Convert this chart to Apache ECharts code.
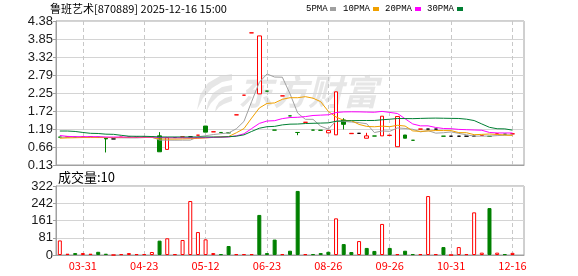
<!DOCTYPE html>
<html><head><meta charset="utf-8">
<script src="https://cdn.jsdelivr.net/npm/echarts@6/dist/echarts.min.js"></script>
<style>html,body{margin:0;padding:0;background:#fff}#c{width:578px;height:276px}</style>
</head><body><div id="c"></div>
<script>
const titleText = '鲁班艺术[870889] 2025-12-16 15:00';
const tickLabels = ['03-31','04-23','05-12','06-23','08-26','09-26','10-31','12-16'];
const tickFirst = 3, tickEvery = 8;
const priceMin = 0.13, priceMax = 4.38;
const volMax = 322;

const open  = [0.955,0.96,0.95,0.96,0.97,0.95,0.92,0.90,0.95,0.95, 0.95,0.95,0.96,0.99,0.59,0.94,0.96,0.96,1.01,1.28, 1.11,1.09,1.08,1.61,2.19,4.03,2.23,2.31,1.16,2.17, 1.58,1.09,1.39,1.16,1.155,1.08,1.02,1.46,1.055,1.065, 0.92,0.985,0.99,1.00,0.67,1.015,0.86,1.19,1.19,1.19, 0.98,0.98,0.98,0.98,0.98,1.00,0.975,1.05,1.04,1.05];
const close = [0.95,0.96,0.95,0.96,0.97,0.95,0.90,0.90,0.95,0.95, 0.95,0.95,0.96,0.52,0.94,0.94,0.96,0.96,1.01,1.10, 1.11,1.09,1.08,1.61,2.19,4.03,3.94,2.31,1.16,2.17, 1.58,1.09,1.39,1.16,1.155,1.15,2.29,1.33,1.065,1.065, 0.99,0.985,1.57,1.01,1.56,0.92,0.86,1.19,1.19,1.19, 0.98,0.98,0.98,0.98,0.98,1.00,0.975,1.05,1.04,1.05];
const low   = [0.95,0.96,0.95,0.96,0.97,0.95,0.50,0.90,0.95,0.95, 0.95,0.95,0.96,0.52,0.59,0.94,0.96,0.96,1.01,1.10, 1.11,1.09,1.08,1.61,2.19,4.03,2.23,2.31,1.16,2.17, 1.58,1.01,1.39,1.16,1.155,1.08,1.02,1.18,1.055,1.065, 0.92,0.985,0.99,1.00,0.67,0.92,0.86,1.19,1.19,1.19, 0.98,0.98,0.98,0.98,0.98,1.00,0.975,1.05,1.04,1.05];
const high  = [0.955,0.96,0.95,0.96,0.97,0.95,0.92,0.90,0.95,0.95, 0.95,0.95,0.96,1.10,0.94,0.94,0.96,0.96,1.01,1.28, 1.11,1.09,1.08,1.61,2.19,4.03,3.94,2.31,1.16,2.17, 1.58,1.09,1.39,1.16,1.155,1.15,2.29,1.51,1.065,1.065, 1.08,0.985,1.57,1.01,1.56,1.015,0.86,1.19,1.19,1.19, 0.98,0.98,0.98,0.98,0.98,1.00,0.975,1.05,1.04,1.05];
const volume = [68,6,9,9,6,15,6,0,4,9, 4,4,14,67,78,4,70,252,107,73, 9,4,42,4,4,4,187,9,72,4, 20,299,4,4,9,15,171,51,14,65, 33,19,145,33,4,20,4,4,275,4, 37,0,37,4,199,11,219,11,4,10];
const ma5  = [0.95,0.95,0.95,0.955,0.958,0.958,0.946,0.936,0.934,0.93, 0.93,0.94,0.952,0.866,0.864,0.862,0.864,0.864,0.962,0.994, 1.028,1.054,1.078,1.198,1.416,2.0,2.57,2.816,2.726,2.722, 2.232,1.662,1.478,1.478,1.275,1.189,1.429,1.417,1.398,1.38, 1.348,1.087,1.135,1.124,1.223,1.209,1.184,1.108,1.144,1.07, 1.082,1.106,1.064,1.022,0.98,0.984,0.983,0.997,1.009,1.023];
const ma10 = [0.92,0.93,0.935,0.94,0.94,0.94,0.94,0.94,0.94,0.944, 0.944,0.943,0.944,0.90,0.897,0.896,0.902,0.908,0.914,0.929, 0.945,0.959,0.971,1.08,1.205,1.514,1.812,1.947,1.962,2.069, 2.116,2.116,2.147,2.102,1.999,1.711,1.546,1.448,1.438,1.328, 1.269,1.258,1.276,1.261,1.302,1.279,1.136,1.122,1.134,1.147, 1.146,1.145,1.086,1.083,1.025,1.033,1.045,1.031,1.016,1.002];
const ma20 = [1.0,0.975,0.965,0.965,0.965,0.965,0.955,0.955,0.955,0.955, 0.955,0.955,0.955,0.94,0.935,0.935,0.935,0.935,0.935,0.937, 0.945,0.951,0.958,0.99,1.051,1.205,1.357,1.428,1.438,1.499, 1.531,1.538,1.559,1.591,1.602,1.612,1.679,1.697,1.70,1.698, 1.692,1.687,1.712,1.682,1.65,1.495,1.341,1.285,1.286,1.237, 1.207,1.202,1.181,1.172,1.163,1.156,1.09,1.076,1.075,1.074];
const ma30 = [1.133,1.133,1.12,1.09,1.065,1.06,1.04,1.035,1.006,0.98, 0.977,0.977,0.97,0.957,0.957,0.957,0.957,0.957,0.957,0.957, 0.957,0.957,0.965,0.98,1.02,1.12,1.215,1.26,1.27,1.314, 1.335,1.339,1.354,1.361,1.367,1.374,1.42,1.434,1.438,1.442, 1.443,1.444,1.465,1.481,1.502,1.501,1.498,1.505,1.511,1.514, 1.51,1.506,1.503,1.482,1.442,1.341,1.242,1.20,1.196,1.159];
const maNames = ['5PMA','10PMA','20PMA','30PMA'];

const RED = '#ff0000', GREEN = '#008000', FLAT = '#000000';
const maColors = ['#a0a0a0','#f0a000','#ff00ff','#007f33'];
const n = close.length;
// one spare slot at the right end like the reference
const cats = Array.from({length: n + 1}, (_, i) => String(i));
const isTick = i => i >= tickFirst && (i - tickFirst) % tickEvery === 0 && i < n;
const tickIdx = cats.map((c, i) => i).filter(isTick);

function kind(i) {
  if (close[i] > open[i]) return 'up';
  if (close[i] < open[i]) return 'down';
  if (i === 0) return 'flat';
  return close[i] > close[i-1] ? 'up' : close[i] < close[i-1] ? 'down' : 'flat';
}
const candleData = close.map((c, i) => {
  const k = kind(i);
  const col = k === 'up' ? RED : k === 'down' ? GREEN : FLAT;
  const fill = k === 'up' ? '#ffffff' : col;
  return { value: [open[i], c, low[i], high[i]],
    itemStyle: { color: fill, color0: fill, borderColor: col, borderColor0: col, borderColorDoji: col, borderWidth: 1 } };
});
const volData = volume.map((v, i) => {
  const up = i === 0 || close[i] >= close[i-1];
  return { value: v, itemStyle: up
    ? { color: '#ffffff', borderColor: RED, borderWidth: 1 }
    : { color: GREEN, borderColor: GREEN, borderWidth: 1 } };
});

const chart = echarts.init(document.getElementById('c'), null, {renderer: 'canvas'});
const gridL = 56, gridR = 54;
const axisGray = '#a0a0a0', splitGray = '#d4d4d4', dashGray = '#c8c8c8';
const vLines = { silent: true, symbol: 'none', z: 1, label: {show: false},
  lineStyle: {color: dashGray, type: [4, 3], width: 1},
  emphasis: {disabled: true},
  data: tickIdx.map(i => ({xAxis: String(i)})) };

const legendItems = [];
const legendX = [306, 343, 385, 427];
const markX = [330, 373, 415, 457];
maNames.forEach((nm, k) => {
  legendItems.push({type: 'text', x: legendX[k], y: 9, z: 10,
    style: {text: nm, fill: '#000', fontSize: 9, fontFamily: "'Liberation Mono',monospace", verticalAlign: 'middle'}});
  legendItems.push({type: 'rect', z: 10, shape: {x: markX[k], y: 7, width: 6, height: 4}, style: {fill: maColors[k]}});
});

const wm = '#e6e6e6';
const option = {
  animation: false,
  backgroundColor: '#fff',
  grid: [
    {left: gridL, right: gridR, top: 21, height: 144, show: true, borderColor: axisGray, borderWidth: 1},
    {left: gridL, right: gridR, top: 186, height: 69, show: true, borderColor: axisGray, borderWidth: 1}
  ],
  xAxis: [
    {type: 'category', gridIndex: 0, data: cats, boundaryGap: true,
     axisLine: {lineStyle: {color: axisGray}}, axisTick: {show: false}, axisLabel: {show: false}, splitLine: {show: false}},
    {type: 'category', gridIndex: 1, data: cats, boundaryGap: true,
     axisLine: {lineStyle: {color: axisGray}}, axisTick: {show: false},
     axisLabel: {interval: (i) => isTick(i), formatter: (v, i) => isTick(i) ? tickLabels[(i - tickFirst) / tickEvery] : '',
       color: RED, fontSize: 11, fontFamily: "'Noto Sans CJK SC', sans-serif", margin: 5},
     splitLine: {show: false}}
  ],
  yAxis: [
    {type: 'value', gridIndex: 0, min: priceMin, max: priceMax, interval: (priceMax - priceMin) / 8,
     axisLine: {show: true, lineStyle: {color: axisGray}}, axisTick: {show: true, length: 3, lineStyle: {color: axisGray}},
     axisLabel: {formatter: v => v.toFixed(2), color: '#1a1a1a', fontSize: 13, fontFamily: "'Liberation Sans', Arial, sans-serif", margin: 3, showMinLabel: true, showMaxLabel: true},
     splitLine: {show: true, lineStyle: {color: splitGray, width: 1}}},
    {type: 'value', gridIndex: 1, min: 0, max: volMax, interval: volMax / 4,
     axisLine: {show: true, lineStyle: {color: axisGray}}, axisTick: {show: true, length: 3, lineStyle: {color: axisGray}},
     axisLabel: {formatter: v => String(Math.round(v)), color: '#1a1a1a', fontSize: 13, fontFamily: "'Liberation Sans', Arial, sans-serif", margin: 3, showMinLabel: true, showMaxLabel: true},
     splitLine: {show: true, lineStyle: {color: splitGray, width: 1}}}
  ],
  graphic: [
    {type: 'text', x: 50, y: 9, z: 10, style: {text: titleText, fill: '#000', fontSize: 11, fontFamily: "'Noto Sans CJK SC', sans-serif", verticalAlign: 'middle'}},
    ...legendItems,
    {type: 'text', x: 58, y: 177, z: 10, style: {text: '成交量:' + volume[n - 1], fill: '#000', fontSize: 13, fontFamily: "'Noto Sans CJK SC', sans-serif", verticalAlign: 'middle'}},
    {type: 'polygon', z: 0, silent: true, shape: {points: [[232,74],[220,76],[208,83],[200,95],[197,110],[203,98],[212,88],[222,82],[232,80]]}, style: {fill: wm}},
    {type: 'polygon', z: 0, silent: true, shape: {points: [[232,85],[222,87],[213,93],[208,102],[206,112],[211,103],[218,96],[225,92],[232,91]]}, style: {fill: wm}},
    {type: 'polygon', z: 0, silent: true, shape: {points: [[232,96],[225,98],[219,102],[216,107],[215,112],[219,107],[224,104],[232,101]]}, style: {fill: wm}},
    {type: 'text', x: 238, y: 92, z: 0, silent: true, style: {text: '东方财富', fill: wm, fontSize: 35, fontWeight: 'bold', fontStyle: 'italic', fontFamily: "'Noto Sans CJK SC', sans-serif", verticalAlign: 'middle'}}
  ],
  series: [
    {type: 'candlestick', xAxisIndex: 0, yAxisIndex: 0, data: candleData, barWidth: 4, z: 3, markLine: vLines},
    ...[ma5, ma10, ma20, ma30].map((d, k) => ({type: 'line', name: maNames[k], xAxisIndex: 0, yAxisIndex: 0, data: d,
      showSymbol: false, symbol: 'none', z: 4, lineStyle: {color: maColors[k], width: 1}, emphasis: {disabled: true}})),
    {type: 'bar', xAxisIndex: 1, yAxisIndex: 1, data: volData, barWidth: 4, z: 3, markLine: vLines}
  ]
};
chart.setOption(option);
</script></body></html>
